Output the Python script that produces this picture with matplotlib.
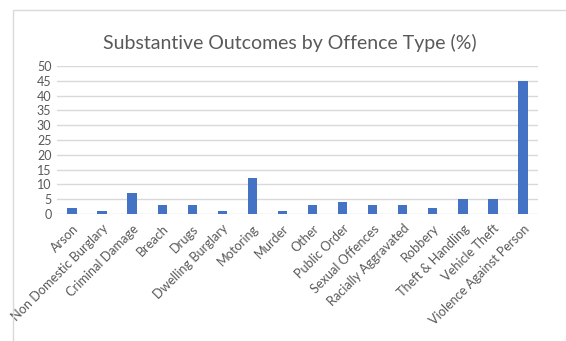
import matplotlib
matplotlib.use("Agg")
import matplotlib.pyplot as plt
from matplotlib.patches import Rectangle
import numpy as np

# --- DATA ---
categories = ["Arson", "Non Domestic Burglary", "Criminal Damage", "Breach", "Drugs",
              "Dwelling Burglary", "Motoring", "Murder", "Other", "Public Order",
              "Sexual Offences", "Racially Aggravated", "Robbery", "Theft & Handling",
              "Vehicle Theft", "Violence Against Person"]
values = [2, 1, 7, 3, 3, 1, 12, 1, 3, 4, 3, 3, 2, 5, 5, 45]
y_ticks = list(range(0, 51, 5))

plt.rcParams['font.family'] = ['Lato', 'DejaVu Sans']
TEXT = "#595959"
GRID = "#d9d9d9"

fig = plt.figure(figsize=(5.66, 3.41), dpi=100)
fig.patch.set_facecolor("white")

# chart frame (cropped at right and bottom like the reference)
fig.patches.append(Rectangle((13 / 566, -0.1), 1.2, 1.1 - 10 / 341,
                             transform=fig.transFigure, fill=False,
                             edgecolor=GRID, linewidth=1.0))

ax = fig.add_axes([57 / 566, 1 - 214 / 341, (538 - 57) / 566, (214 - 66) / 341])
x = np.arange(len(categories))
ax.bar(x, values, width=0.31, color="#4472C4", zorder=3)

ax.set_xlim(-0.5, len(categories) - 0.5)
ax.set_ylim(0, 50)
ax.set_yticks(y_ticks)
ax.set_yticklabels([str(t) for t in y_ticks], color=TEXT, fontsize=9)
ax.yaxis.grid(True, color=GRID, linewidth=1.0, zorder=0)
ax.set_xticks(x)
ax.set_xticklabels(categories, rotation=45, ha="right", rotation_mode="anchor",
                   color=TEXT, fontsize=9.2)
ax.tick_params(axis="x", length=0, pad=6)
ax.tick_params(axis="y", length=0, pad=4)
for s in ax.spines.values():
    s.set_visible(False)

fig.text(290 / 566, 1 - 43 / 341, "Substantive Outcomes by Offence Type (%)",
         ha="center", va="center", fontsize=14, color=TEXT)

fig.savefig("out.png", dpi=100)
